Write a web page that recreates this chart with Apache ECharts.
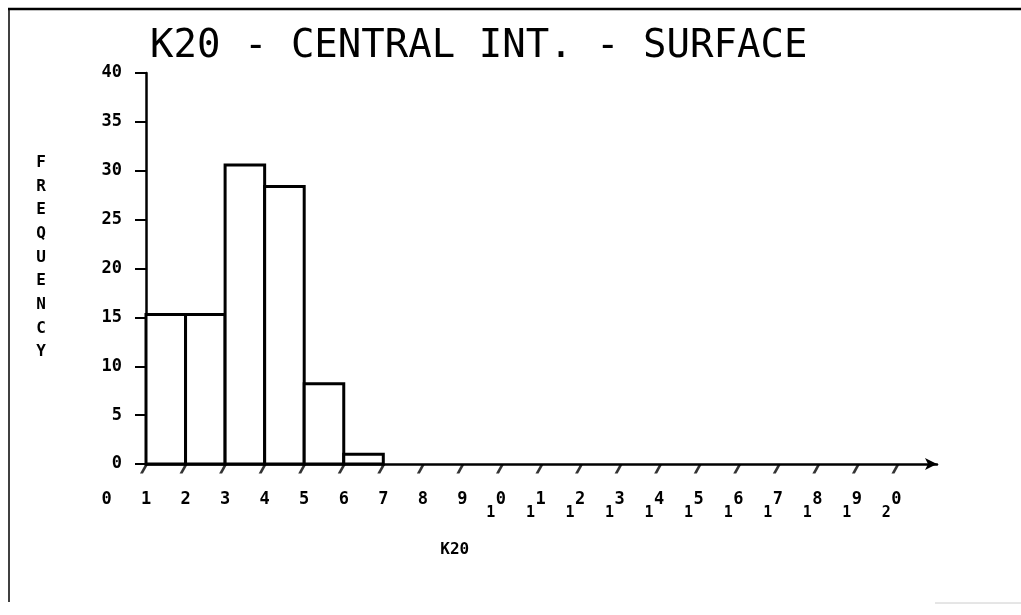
<!DOCTYPE html>
<html><head><meta charset="utf-8">
<script src="https://cdn.jsdelivr.net/npm/echarts@6/dist/echarts.min.js"></script>
<style>html,body{margin:0;padding:0;background:#fff}#c{width:1021px;height:615px}</style>
</head><body><div id="c"></div>
<script>
// ---- data ----
const titleText = 'K20 - CENTRAL INT. - SURFACE';
const xAxisTitle = 'K20';
const yAxisTitle = 'FREQUENCY';
const binStarts = [1, 2, 3, 4, 5, 6];
const frequencies = [15.3, 15.3, 30.6, 28.4, 8.2, 1.0];
const binWidth = 1;
const xTickLabels = ['0','1','2','3','4','5','6','7','8','9','10','11','12','13','14','15','16','17','18','19','20'];
const xTickValues = [1,2,3,4,5,6,7,8,9,10,11,12,13,14,15,16,17,18,19,20];
const yMin = 0, yMax = 40, yStep = 5;
const xMin = 1, xMax = 21, xLabelMin = 0;

const FONT = 'DejaVu Sans Mono';
const chart = echarts.init(document.getElementById('c'), null, {renderer: 'canvas'});

const histData = binStarts.map((s, i) => [s, s + binWidth, frequencies[i]]);
const tickData = xTickValues.map(v => [v, 0]);

chart.setOption({
  animation: false,
  backgroundColor: '#fff',
  title: {
    text: titleText, left: 145, top: 22,
    textStyle: {fontFamily: FONT, fontSize: 39, fontWeight: 'normal', color: '#000'}
  },
  graphic: [
    {type: 'line', shape: {x1: 8, y1: 9, x2: 1021, y2: 9}, style: {stroke: '#000', lineWidth: 2.5}},
    {type: 'line', shape: {x1: 9, y1: 9, x2: 9, y2: 602}, style: {stroke: '#000', lineWidth: 1.5}},
    {type: 'line', shape: {x1: 935, y1: 603, x2: 1021, y2: 603}, style: {stroke: '#ccc', lineWidth: 1}}
  ],
  grid: [
    {left: 146, right: 84, top: 73, bottom: 151},
    {left: 106.5, right: 84, top: 73, bottom: 151}
  ],
  xAxis: [
    {
      type: 'value', gridIndex: 0, min: xMin, max: xMax, interval: 1,
      axisLine: {show: true, onZero: false, lineStyle: {color: '#000', width: 2.5}, symbol: ['none', 'arrow'], symbolSize: [9, 12]},
      axisTick: {show: false}, axisLabel: {show: false}, splitLine: {show: false}
    },
    {
      type: 'value', gridIndex: 1, min: xLabelMin, max: xMax, interval: 1,
      axisLine: {show: false}, axisTick: {show: false}, splitLine: {show: false},
      axisLabel: {
        margin: 27,
        formatter: function (v) {
          const s = xTickLabels[v];
          if (s === undefined) return '';
          if (s.length === 1) return '{n|' + s + '}';
          return '{s|' + s[0] + '}{m|' + s.slice(1) + '}';
        },
        rich: {
          n: {fontFamily: FONT, fontSize: 17, fontWeight: 'bold', color: '#000', verticalAlign: 'top', lineHeight: 18},
          m: {fontFamily: FONT, fontSize: 17, fontWeight: 'bold', color: '#000', verticalAlign: 'top', lineHeight: 18, padding: [0, 12, 0, 0]},
          s: {fontFamily: FONT, fontSize: 15, fontWeight: 'bold', color: '#000', verticalAlign: 'bottom', lineHeight: 30, width: 10}
        }
      },
      name: xAxisTitle, nameLocation: 'middle', nameGap: 78,
      nameTextStyle: {fontFamily: FONT, fontSize: 16, fontWeight: 'bold', color: '#000', padding: [0, 134, 0, 0]}
    }
  ],
  yAxis: [
    {
      type: 'value', gridIndex: 0, min: yMin, max: yMax, interval: yStep,
      axisLine: {show: true, lineStyle: {color: '#000', width: 2.5}},
      axisTick: {show: true, length: 11, lineStyle: {color: '#000', width: 2}},
      axisLabel: {margin: 24, fontFamily: FONT, fontSize: 17, fontWeight: 'bold', color: '#000'},
      splitLine: {show: false},
      name: '{v|' + yAxisTitle.split('').join('\n') + '}', nameLocation: 'middle', nameRotate: 0, nameGap: 100,
      nameTextStyle: {
        rich: {v: {fontFamily: FONT, fontSize: 16, fontWeight: 'bold', color: '#000', lineHeight: 23.7, padding: [0, 0, 22, 0]}}
      }
    },
    {type: 'value', gridIndex: 1, min: yMin, max: yMax, show: false}
  ],
  series: [
    {
      type: 'custom', xAxisIndex: 0, yAxisIndex: 0, data: histData,
      renderItem: function (params, api) {
        const p0 = api.coord([api.value(0), 0]);
        const p1 = api.coord([api.value(1), api.value(2)]);
        return {
          type: 'rect',
          shape: {x: p0[0], y: p1[1], width: p1[0] - p0[0], height: p0[1] - p1[1]},
          style: {fill: '#fff', stroke: '#000', lineWidth: 3}
        };
      }
    },
    {
      type: 'scatter', xAxisIndex: 0, yAxisIndex: 0, data: tickData,
      symbol: 'path://M0,10 L3,10 L8,0 L5,0 Z', symbolSize: [8, 9], symbolOffset: [-2, 5],
      itemStyle: {color: '#000'}, silent: true
    }
  ]
});
</script></body></html>
